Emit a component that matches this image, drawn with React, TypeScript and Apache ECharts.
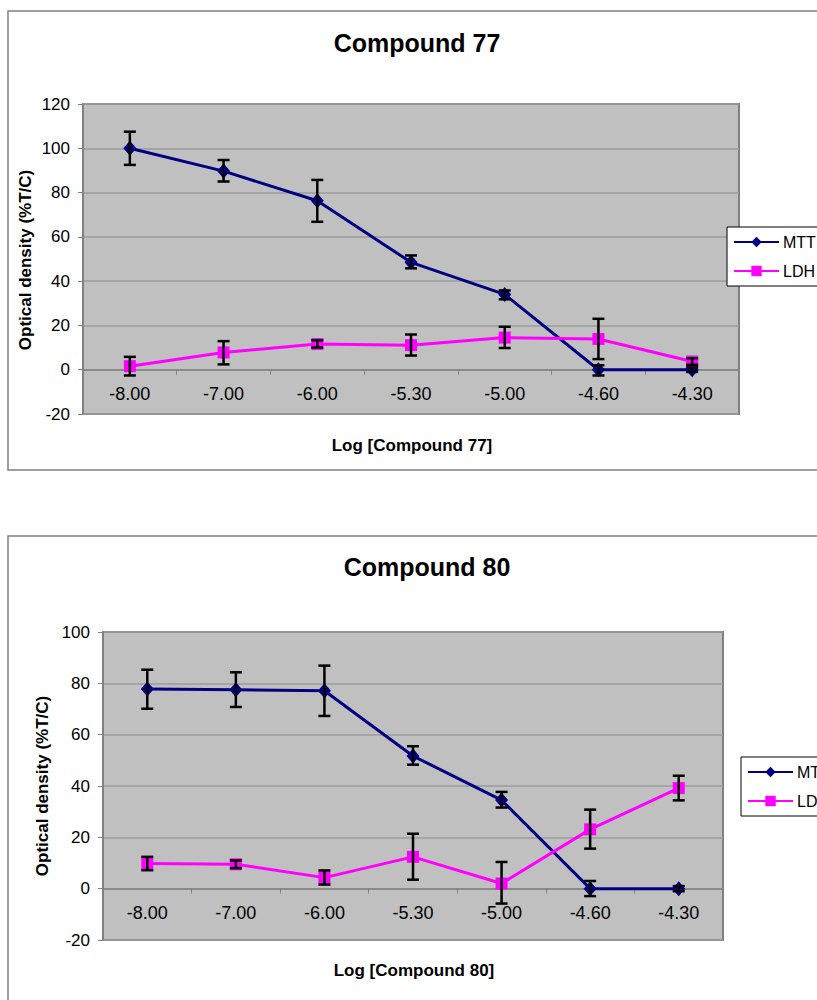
import React, { useEffect, useRef } from "react";
import * as echarts from "echarts";

const categories = ["-8.00", "-7.00", "-6.00", "-5.30", "-5.00", "-4.60", "-4.30"];

// Compound 77
const mtt77 = [100, 89.7, 76.3, 48.5, 34, 0, 0];
const mtt77Low = [92.5, 85, 66.8, 45.8, 31.8, -2.6, -1];
const mtt77High = [107.5, 94.7, 85.7, 51.6, 35.8, 2, 1];
const ldh77 = [1.6, 7.8, 11.6, 11.1, 14.5, 13.9, 3.7];
const ldh77Low = [-2.6, 2.4, 10, 6.4, 9.8, 4.8, 2.2];
const ldh77High = [5.8, 12.9, 13.3, 15.9, 19.4, 23, 5.2];

// Compound 80
const mtt80 = [77.8, 77.5, 77.1, 51.7, 34.5, 0, 0];
const mtt80Low = [70.1, 70.8, 67.3, 48.3, 31.6, -2.9, -1];
const mtt80High = [85.3, 84.3, 86.9, 55.5, 37.7, 3, 1];
const ldh80 = [9.8, 9.5, 4.3, 12.4, 2, 23.1, 39.2];
const ldh80Low = [7.2, 8, 1.6, 3.5, -5.8, 15.6, 34.4];
const ldh80High = [12.4, 11, 7.1, 21.4, 10.4, 30.8, 44];

const yTicks77 = { min: -20, max: 120, interval: 20 };
const yTicks80 = { min: -20, max: 100, interval: 20 };

const FONT = "'Liberation Sans', Arial, sans-serif";
const NAVY = "#000080";
const MAGENTA = "#ff00ff";

function errData(low: number[], high: number[]) {
  return low.map((l, i) => [i, l, high[i]]);
}

function errorSeries(gridIdx: number, low: number[], high: number[]) {
  return {
    type: "custom",
    xAxisIndex: gridIdx,
    yAxisIndex: gridIdx,
    z: 5,
    silent: true,
    encode: { x: 0, y: [1, 2] },
    data: errData(low, high),
    renderItem: (params: any, api: any) => {
      const i = api.value(0);
      const lo = api.coord([i, api.value(1)]);
      const hi = api.coord([i, api.value(2)]);
      const half = 6;
      const style = { stroke: "#000", lineWidth: 2.5 };
      return {
        type: "group",
        children: [
          { type: "line", shape: { x1: lo[0], y1: lo[1], x2: hi[0], y2: hi[1] }, style },
          { type: "line", shape: { x1: lo[0] - half, y1: lo[1], x2: lo[0] + half, y2: lo[1] }, style },
          { type: "line", shape: { x1: hi[0] - half, y1: hi[1], x2: hi[0] + half, y2: hi[1] }, style },
        ],
      };
    },
  };
}

function lineSeries(name: string, gridIdx: number, data: number[], color: string, symbol: string, size: any) {
  return {
    name,
    type: "line",
    xAxisIndex: gridIdx,
    yAxisIndex: gridIdx,
    data,
    symbol,
    symbolSize: size,
    z: 3,
    lineStyle: { color, width: 3 },
    itemStyle: { color, borderColor: color, borderWidth: 0 },
  };
}

// offset moves the category axis up from the plot bottom to the value 0
function xAxisFor(gridIdx: number, zeroOffset: number) {
  return {
    type: "category",
    gridIndex: gridIdx,
    data: categories,
    boundaryGap: true,
    position: "bottom",
    offset: -zeroOffset,
    axisLine: { show: true, onZero: false, lineStyle: { color: "#808080", width: 1.5 } },
    axisTick: { show: true, length: 5, lineStyle: { color: "#808080", width: 1 } },
    axisLabel: { fontSize: 18, color: "#000", fontFamily: FONT, margin: 15 },
    splitLine: { show: false },
  };
}

function yAxisFor(gridIdx: number, t: { min: number; max: number; interval: number }) {
  return {
    type: "value",
    gridIndex: gridIdx,
    min: t.min,
    max: t.max,
    interval: t.interval,
    axisLine: { show: true, lineStyle: { color: "#808080", width: 1.5 } },
    axisTick: { show: true, length: 5, lineStyle: { color: "#808080" } },
    axisLabel: { fontSize: 17, color: "#000", fontFamily: FONT, margin: 13 },
    splitLine: { show: true, lineStyle: { color: "#9c9c9c", width: 1.5 } },
  };
}

function legendFor(left: number, top: number) {
  return {
    left,
    top,
    orient: "vertical",
    data: ["MTT", "LDH"],
    itemWidth: 45,
    itemHeight: 13,
    itemGap: 13,
    padding: [7, 60, 7, 6],
    backgroundColor: "#fff",
    borderColor: "#000",
    borderWidth: 1,
    selectedMode: false,
    textStyle: { fontSize: 16, color: "#000", fontFamily: FONT, padding: [0, 0, 0, -1] },
  };
}

export default function App() {
  const ref = useRef<HTMLDivElement>(null);
  useEffect(() => {
    if (!ref.current) return;
    const chart = echarts.init(ref.current, null, { renderer: "svg" });
    const titleStyle = { fontSize: 25, fontWeight: "bold", fontFamily: FONT, fill: "#000" };
    const nameStyle = { fontSize: 17, fontWeight: "bold", fontFamily: FONT, fill: "#000" };
    // plot 1: top 104, height 310, range -20..120 -> zero is 20/140 of height above bottom
    const h1 = 310;
    const h2 = 308;
    const z1 = (h1 * (0 - yTicks77.min)) / (yTicks77.max - yTicks77.min);
    const z2 = (h2 * (0 - yTicks80.min)) / (yTicks80.max - yTicks80.min);
    chart.setOption({
      animation: false,
      backgroundColor: "#fff",
      grid: [
        { left: 83, top: 104, width: 656, height: h1, show: true, backgroundColor: "#c0c0c0", borderColor: "#808080", borderWidth: 2 },
        { left: 103, top: 632, width: 620, height: h2, show: true, backgroundColor: "#c0c0c0", borderColor: "#808080", borderWidth: 2 },
      ],
      xAxis: [xAxisFor(0, z1), xAxisFor(1, z2)],
      yAxis: [yAxisFor(0, yTicks77), yAxisFor(1, yTicks80)],
      legend: [legendFor(727, 227), legendFor(741, 757)],
      series: [
        lineSeries("MTT", 0, mtt77, NAVY, "diamond", [13, 15]),
        lineSeries("LDH", 0, ldh77, MAGENTA, "rect", [12, 12]),
        errorSeries(0, mtt77Low, mtt77High),
        errorSeries(0, ldh77Low, ldh77High),
        lineSeries("MTT", 1, mtt80, NAVY, "diamond", [13, 15]),
        lineSeries("LDH", 1, ldh80, MAGENTA, "rect", [12, 12]),
        errorSeries(1, mtt80Low, mtt80High),
        errorSeries(1, ldh80Low, ldh80High),
      ],
      graphic: [
        { type: "rect", z: -10, shape: { x: 8, y: 11, width: 900, height: 459 }, style: { fill: "#fff", stroke: "#808080", lineWidth: 1.5 } },
        { type: "rect", z: -10, shape: { x: 8, y: 536, width: 900, height: 500 }, style: { fill: "#fff", stroke: "#808080", lineWidth: 1.5 } },
        { type: "text", x: 417, y: 43, style: { ...titleStyle, text: "Compound 77", textAlign: "center", textVerticalAlign: "middle" } },
        { type: "text", x: 427, y: 567, style: { ...titleStyle, text: "Compound 80", textAlign: "center", textVerticalAlign: "middle" } },
        { type: "text", x: 412, y: 445, style: { ...nameStyle, text: "Log [Compound 77]", textAlign: "center", textVerticalAlign: "middle" } },
        { type: "text", x: 414, y: 970, style: { ...nameStyle, text: "Log [Compound 80]", textAlign: "center", textVerticalAlign: "middle" } },
        { type: "text", x: 25, y: 260, rotation: Math.PI / 2, style: { ...nameStyle, text: "Optical density (%T/C)", textAlign: "center", textVerticalAlign: "middle" } },
        { type: "text", x: 42, y: 786, rotation: Math.PI / 2, style: { ...nameStyle, text: "Optical density (%T/C)", textAlign: "center", textVerticalAlign: "middle" } },
      ],
    });
    return () => chart.dispose();
  }, []);
  return <div ref={ref} style={{ position: "absolute", left: 0, top: 0, width: 817, height: 1000 }} />;
}
